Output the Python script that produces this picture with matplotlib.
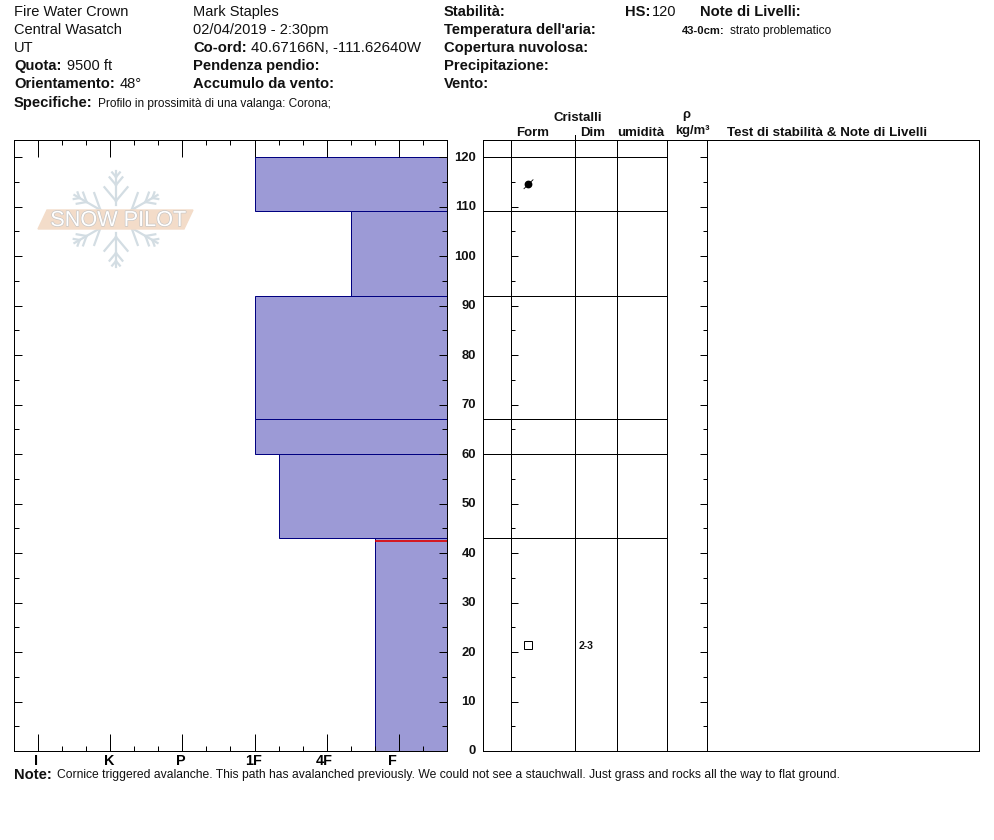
import numpy as np
import matplotlib
matplotlib.use("Agg")
import matplotlib.pyplot as plt
from matplotlib.patches import Polygon, Ellipse
from matplotlib.transforms import ScaledTranslation
import matplotlib.patheffects as pe

plt.rcParams['font.family'] = ['Liberation Sans', 'DejaVu Sans']

W, H = 994, 840
LW = 0.72  # one pixel

# layers (cm from ground) and hand hardness on the I..F index scale
layer_top = [120, 109, 92, 67, 60, 43]
layer_bottom = [109, 92, 67, 60, 43, 0]
layer_hardness = [3, 4 + 1/3, 3, 3, 3 + 1/3, 5 - 1/3]

hardness_labels = ['I', 'K', 'P', '1F', '4F', 'F']
label_nudge = [-2, -1, -2, -1, -2, -6]
height_ticks = list(range(0, 121, 10))
column_edges = [483, 511, 575, 617, 667, 707, 979]

header_plain_top = [("Fire Water Crown", 14, 12), ("Central Wasatch", 14, 30), ("UT", 14, 48),
                    ("Mark Staples", 193, 12), ("02/04/2019 - 2:30pm", 193, 30)]
header_bold = [("Co-ord:", 193, 48), ("Quota:", 14, 66), ("Orientamento:", 14, 84), ("Pendenza pendio:", 193, 66),
               ("Accumulo da vento:", 193, 84), ("Stabilità:", 444, 12), ("Temperatura dell'aria:", 444, 30),
               ("Copertura nuvolosa:", 444, 48), ("Precipitazione:", 444, 66), ("Vento:", 444, 84),
               ("HS:", 625, 12), ("Note di Livelli:", 700, 12), ("Specifiche:", 14, 103)]
header_plain = [("40.67166N, -111.62640W", 251, 48, 15), ("9500 ft", 67, 66, 14.6), ("48°", 120, 84, 14.6),
                ("120", 652, 12, 14.6), ("Profilo in prossimità di una valanga: Corona;", 98, 104, 11.9)]

fig = plt.figure(figsize=(W / 100, H / 100), dpi=100)


def px_axes(x0, y0, x1, y1, **kw):
    return fig.add_axes([x0 / W, 1 - y1 / H, (x1 - x0) / W, (y1 - y0) / H], **kw)


def label(x, y, s, size=14, bold=False, ha='left'):
    fig.text(x / W, 1 - y / H, s, fontsize=size * 0.72, fontweight='bold' if bold else 'normal',
             ha=ha, va='center', color='#111111')


# hardness profile
ymax = 611 / 4.95
ax = px_axes(14, 140, 447, 751)
ax.set_xlim(-1/3, 5 + 2/3)
ax.set_ylim(0, ymax)
for top, bot, hard in zip(layer_top, layer_bottom, layer_hardness):
    ax.barh(bot, 5 + 2/3 - hard, height=top - bot, left=hard, align='edge',
            color='#9c9ad6', edgecolor='#000080', linewidth=LW, zorder=1)
ax.plot([4 + 2/3, 5 + 2/3], [42.5, 42.5], color='#e00000', lw=1.2, zorder=2, solid_capstyle='butt')

ax.set_xticks(range(6))
ax.set_xticklabels(hardness_labels, fontsize=10.4, fontweight='bold')
ax.set_xticks(np.arange(-1/3, 5.7, 1/3), minor=True)
ax.set_yticks(height_ticks)
ax.set_yticklabels([])
ax.set_yticks(range(5, 125, 10), minor=True)
ax.tick_params(axis='x', which='major', length=17 * LW, width=LW, direction='in', top=True, bottom=True, pad=2)
ax.tick_params(axis='x', which='minor', length=5 * LW, width=LW, direction='in', top=True, bottom=True)
ax.tick_params(axis='y', which='major', length=8 * LW, width=LW, direction='in', left=True, right=True)
ax.tick_params(axis='y', which='minor', length=5 * LW, width=LW, direction='in', left=True, right=True)
for t, dx in zip(ax.get_xticklabels(), label_nudge):
    t.set_transform(t.get_transform() + ScaledTranslation(dx / 100, 0, fig.dpi_scale_trans))
for s in ax.spines.values():
    s.set_linewidth(LW)
ax.patch.set_alpha(0)

# crystal / density / test table, x in page pixels
tb = px_axes(483, 140, 979, 751)
tb.set_xlim(483, 979)
tb.set_ylim(0, ymax)
tb.set_xticks([])
tb.set_yticks(height_ticks)
tb.set_yticklabels([str(v) for v in height_ticks], fontsize=9.4, fontweight='bold', color='#111111')
tb.tick_params(axis='y', length=0, pad=5)
for t in tb.get_yticklabels():
    t.set_transform(t.get_transform() + ScaledTranslation(0, 1 / 100, fig.dpi_scale_trans))
for s in tb.spines.values():
    s.set_linewidth(LW)
for e in column_edges[1:-1]:
    tb.axvline(e, color='black', lw=LW)
tb.hlines(layer_top + [0], 483, 667, color='black', lw=LW)
minor = list(range(5, 125, 10))
tb.hlines(height_ticks, 511, 518, color='black', lw=LW)
tb.hlines(minor, 511, 515, color='black', lw=LW)
tb.hlines(height_ticks, 700, 707, color='black', lw=LW)
tb.hlines(minor, 703, 707, color='black', lw=LW)
tb.plot([528], [21.4], marker='s', ms=5.6, mfc='white', mec='black', mew=LW, ls='none')
tb.plot([528], [114.5], marker='o', ms=4.6, color='black', ls='none')
tb.plot([524, 533], [113.6, 115.4], color='black', lw=0.6)
tb.text(579, 21.2, "2-3", fontsize=7.6, fontweight='bold', va='center', ha='left', color='#111111')

# logo
lg = px_axes(30, 160, 200, 275)
lg.set_xlim(30, 200)
lg.set_ylim(275, 160)
lg.axis('off')
flake = '#d3dde3'
cx, cy = 116, 219
for ang in np.deg2rad([90, 30, -30, -90, 150, 210]):
    d = np.array([np.cos(ang), -np.sin(ang)])
    lg.plot([cx + 14 * d[0], cx + 48 * d[0]], [cy + 14 * d[1], cy + 48 * d[1]], color=flake, lw=1.6)
    for r, l in [(18, 18), (34, 10), (42, 6)]:
        p = np.array([cx, cy]) + r * d
        for sgn in (1, -1):
            a2 = ang + sgn * np.deg2rad(40)
            q = p + l * np.array([np.cos(a2), -np.sin(a2)])
            lg.plot([p[0], q[0]], [p[1], q[1]], color=flake, lw=1.6)
lg.add_patch(Polygon([(47, 210), (193, 210), (184, 229), (38, 229)], closed=True, color='#f3dcc9', zorder=3))
lg.text(118, 220.5, "SNOW PILOT", fontsize=15.6, color='white', ha='center', va='center', zorder=4,
        path_effects=[pe.withStroke(linewidth=0.9, foreground='#c4c4c4')])

# page text
for s, x, y in header_plain_top:
    label(x, y, s, size=14.6)
for s, x, y in header_bold:
    label(x, y, s, size=14.7, bold=True)
for s, x, y, size in header_plain:
    label(x, y, s, size=size)
label(682, 31, "43-0cm:", size=11.2, bold=True)
label(730, 31, "strato problematico", size=11.9)

label(554, 118, "Cristalli", size=13.2, bold=True)
label(516, 133, "Form", size=13.2, bold=True)
label(580, 133, "Dim", size=13.2, bold=True)
label(617, 133, "umidità", size=13.2, bold=True)
label(682, 115, "ρ", size=13, bold=True)
label(675, 131, "kg/m³", size=13, bold=True)
label(727, 133, "Test di stabilità & Note di Livelli", size=13.4, bold=True)
fig.add_artist(plt.Line2D([575 / W, 575 / W], [1 - 135 / H, 1 - 140 / H], color='black', lw=LW))

label(14, 775, "Note:", size=14.7, bold=True)
label(57, 775, "Cornice triggered avalanche. This path has avalanched previously. We could not see a stauchwall. "
      "Just grass and rocks all the way to flat ground.", size=12.1)

fig.savefig("out.png", dpi=100)
